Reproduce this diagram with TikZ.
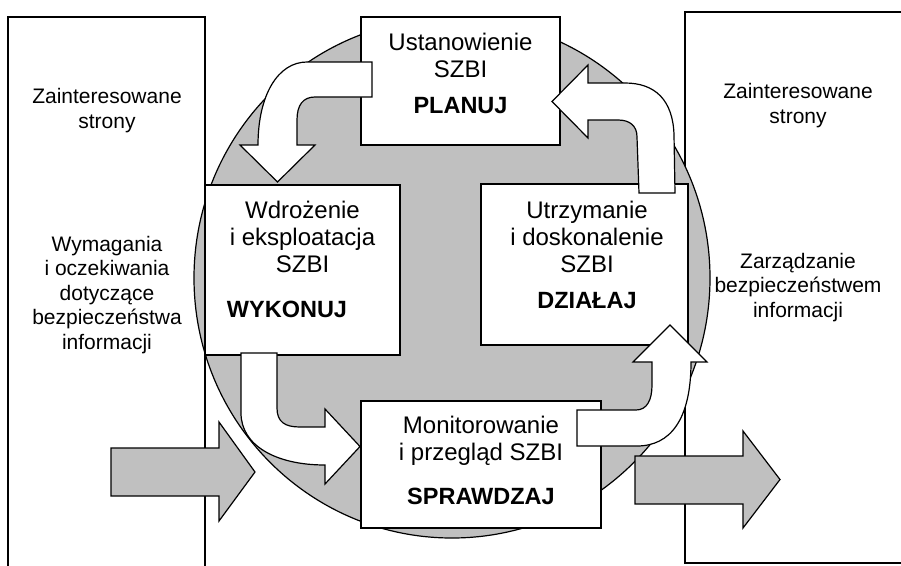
\documentclass[tikz,border=0pt]{standalone}
\usepackage{fontspec}
\setmainfont{Liberation Sans}
\definecolor{cgray}{HTML}{C0C0C0}
\begin{document}
\begin{tikzpicture}[x=1pt,y=-1pt,
  bigbox/.style={line width=2.6pt, line join=miter},
  ring/.style={draw=black, fill=cgray, line width=1.2pt},
  procbox/.style={draw=black, fill=white, line width=1.6pt, inner sep=0pt},
  whitearrow/.style={draw=black, fill=white, line width=1.2pt, line join=miter},
  grayarrow/.style={draw=black, fill=cgray, line width=1.2pt, line join=miter},
  boxtxt/.style={inner sep=0pt, align=center, anchor=base, font=\fontsize{24}{27}\selectfont},
  boldtxt/.style={inner sep=0pt, anchor=base, font=\fontsize{23.5}{27}\selectfont\bfseries},
  sidetxt/.style={inner sep=0pt, align=center, anchor=base, font=\fontsize{21}{24.5}\selectfont}]
\useasboundingbox (0,0) rectangle (901,565);
\clip (0,0) rectangle (901,565);
% side boxes
\draw[bigbox] (8,572) -- (8,17) -- (205,17) -- (205,572);
\draw[bigbox] (910,12) -- (685,12) -- (685,563) -- (910,563);
% gray ring
\path[ring] (452,278) ellipse [x radius=258, y radius=260];
% process boxes
\node[procbox, minimum width=199pt, minimum height=128pt] (plan) at (460.5,81) {};
\node[procbox, minimum width=195pt, minimum height=170pt] (wyk) at (302.5,270) {};
\node[procbox, minimum width=207pt, minimum height=161pt] (dzi) at (584.5,264.5) {};
\node[procbox, minimum width=240pt, minimum height=127pt] (spr) at (481,464.5) {};
% texts in boxes (anchor = baseline of last line)
\node[boxtxt] (plant) at (460.5,77) {Ustanowienie\\SZBI};
\node[boldtxt] (planb) at (460.5,113) {PLANUJ};
\node[boxtxt] (wykt) at (302.5,272) {Wdrożenie\\i eksploatacja\\SZBI};
\node[boldtxt] (wykb) at (287,317) {WYKONUJ};
\node[boxtxt] (dzit) at (587,272) {Utrzymanie\\i doskonalenie\\SZBI};
\node[boldtxt] (dzib) at (587,308) {DZIAŁAJ};
\node[boxtxt] (sprt) at (481,460) {Monitorowanie\\i przegląd SZBI};
\node[boldtxt] (sprb) at (481,504) {SPRAWDZAJ};
% side texts
\node[sidetxt] (lt1) at (107,128) {Zainteresowane\\strony};
\node[sidetxt] (lt2) at (107,349) {Wymagania\\i oczekiwania\\dotyczące\\bezpieczeństwa\\informacji};
\node[sidetxt] (rt1) at (798,123) {Zainteresowane\\strony};
\node[sidetxt] (rt2) at (798,317) {Zarządzanie\\bezpieczeństwem\\informacji};
% curved white arrows
\path[whitearrow] (372,62) -- (307,62) .. controls (278,62) and (258,95) .. (258,145)
  -- (240,145) -- (277.5,182) -- (315,145) -- (297,145) -- (297,120)
  .. controls (297,105) and (303,97) .. (315,97) -- (372,97) -- cycle;
\path[whitearrow] (639,193) -- (637,137) .. controls (637,126) and (630,120) .. (618,120)
  -- (588,120) -- (588,138) -- (552,101.5) -- (588,65) -- (588,83) -- (625,83)
  .. controls (655,83) and (673,100) .. (674,135) -- (675,193) -- cycle;
\path[whitearrow] (241,353) -- (241,413) .. controls (241,445) and (275,465) .. (325,465)
  -- (325,484) -- (360,446.5) -- (325,409) -- (325,427) -- (300,427)
  .. controls (285,427) and (277,422) .. (277,408) -- (277,353) -- cycle;
\path[whitearrow] (577,410) -- (636,410) .. controls (647,410) and (652,400) .. (652,385)
  -- (652,362) -- (633,362) -- (670,325) -- (707,362) -- (691,362)
  .. controls (691,420) and (670,446) .. (637,446) -- (577,446) -- cycle;
% gray in/out arrows
\path[grayarrow] (111,448) -- (219,448) -- (219,422) -- (255,472) -- (219,521) -- (219,496) -- (111,496) -- cycle;
\path[grayarrow] (635,456) -- (743,456) -- (743,431) -- (780,479.5) -- (743,528) -- (743,504) -- (635,504) -- cycle;
\end{tikzpicture}
\end{document}
